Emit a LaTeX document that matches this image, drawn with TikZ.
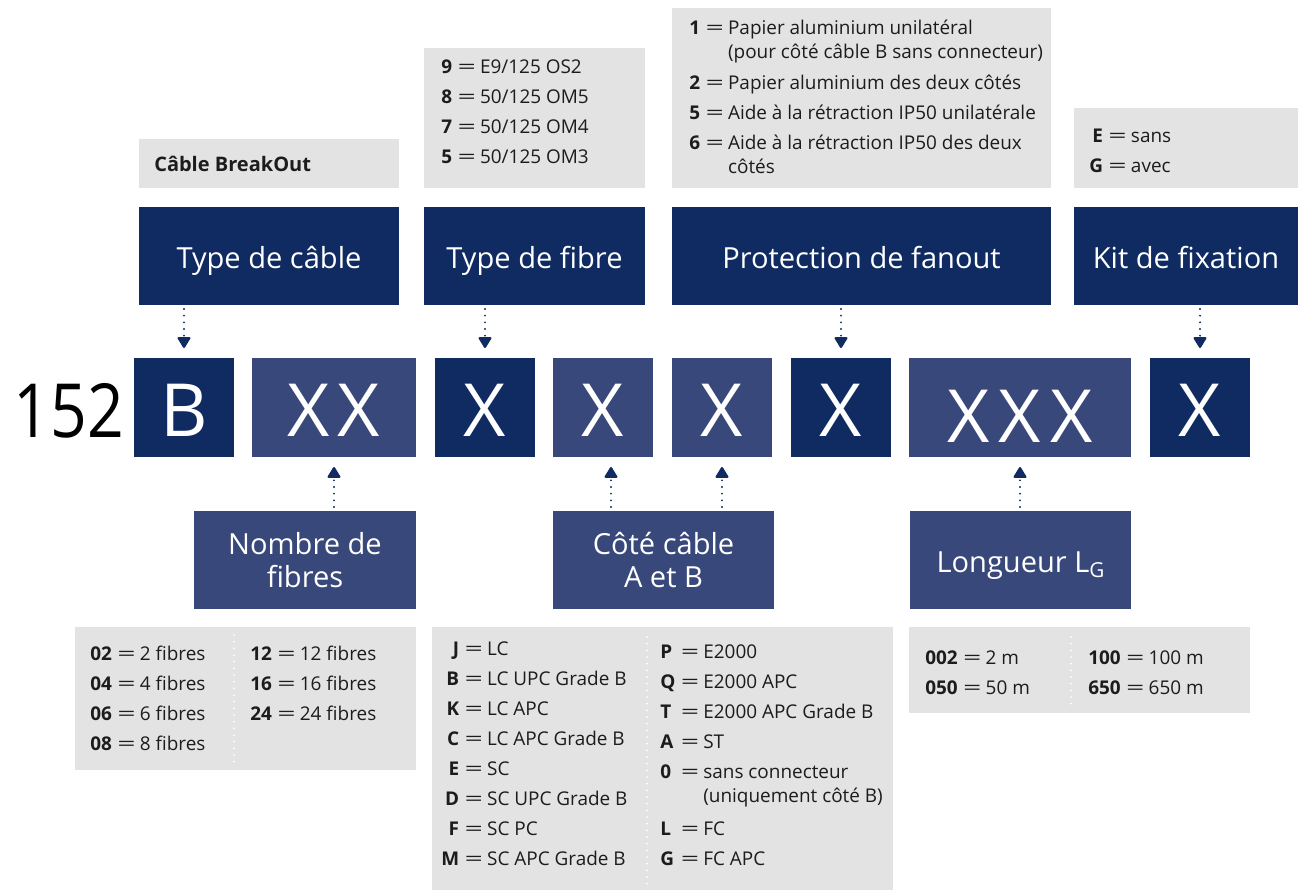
\documentclass[tikz,border=0pt]{standalone}
\usepackage{fontspec}
\setmainfont{Open Sans}
\usepackage{graphicx}
\usetikzlibrary{arrows.meta}

\definecolor{navy}{RGB}{15,43,97}
\definecolor{slate}{RGB}{57,72,122}
\definecolor{panel}{RGB}{227,227,227}
\definecolor{ink}{RGB}{28,28,28}

% wide equals sign used in the code lists, and its blank twin
\newcommand\eqs{\hspace{5pt}\makebox[12pt]{\scalebox{1.7}[1]{=}}\hspace{4pt}}
\newcommand\cont{\hphantom{\eqs}}
% rectangle node given by its corners (pixel units)
\newcommand\blockat[7]{%
  \node[#6, minimum width={(#4-#2)*0.75pt}, minimum height={(#5-#3)*0.75pt}]
    (#1) at ({(#2+#4)/2},{(#3+#5)/2}) {#7};}

\begin{document}
\begin{tikzpicture}[x=0.75pt, y=-0.75pt,
  blk/.style={inner sep=0pt, outer sep=0pt, text=white},
  hdr/.style={blk, fill=navy, font=\fontsize{21.8}{25}\selectfont,
    text height=18pt, text depth=0pt},
  sub/.style={blk, fill=slate, font=\fontsize{21.8}{25}\selectfont, align=center},
  codedark/.style={blk, fill=navy, font=\fontsize{55}{55}\selectfont,
    text height=44pt, text depth=0pt},
  codelight/.style={blk, fill=slate, font=\fontsize{55}{55}\selectfont,
    text height=44pt, text depth=0pt},
  panelbox/.style={inner sep=0pt, outer sep=0pt, fill=panel},
  list/.style={inner sep=0pt, anchor=base west, text=ink,
    font=\fontsize{14.2}{18}\selectfont},
  arrowdots/.style={navy, line width=1.6pt, dash pattern=on 0pt off 5pt,
    line cap=round, shorten <=3pt, shorten >=7.5pt,
    -{Triangle[width=10.5pt,length=9pt,round]}},
  divider/.style={white, line width=1.5pt, dash pattern=on 0pt off 5pt,
    line cap=round}
]
\useasboundingbox (0,0) rectangle (1298,891);

% ---------- top information panels ----------
\blockat{pBreak}{139}{139}{399}{188}{panelbox}{}
\blockat{pFibre}{424}{48}{645}{188}{panelbox}{}
\blockat{pProt}{672}{8}{1051}{188}{panelbox}{}
\blockat{pKit}{1074}{108}{1298}{188}{panelbox}{}

\node[list, font=\fontsize{15}{18}\selectfont\bfseries] (tBreak) at (154,172) {Câble BreakOut};

\node[list] (tFibre) at (441,74) {\begin{tabular}[t]{@{}r@{}l@{}}
\textbf{9} & \eqs E9/125 OS2\\[4.5pt]
\textbf{8} & \eqs 50/125 OM5\\[4.5pt]
\textbf{7} & \eqs 50/125 OM4\\[4.5pt]
\textbf{5} & \eqs 50/125 OM3
\end{tabular}};

\node[list] (tProt) at (689,35) {\begin{tabular}[t]{@{}r@{}l@{}}
\textbf{1} & \eqs Papier aluminium unilatéral\\
 & \cont (pour côté câble B sans connecteur)\\[5pt]
\textbf{2} & \eqs Papier aluminium des deux côtés\\[4.5pt]
\textbf{5} & \eqs Aide à la rétraction IP50 unilatérale\\[4.5pt]
\textbf{6} & \eqs Aide à la rétraction IP50 des deux\\
 & \cont côtés
\end{tabular}};

\node[list] (tKit) at (1089,143) {\begin{tabular}[t]{@{}r@{}l@{}}
\textbf{E} & \eqs sans\\[4pt]
\textbf{G} & \eqs avec
\end{tabular}};

% ---------- header blocks ----------
\blockat{hCable}{139}{207}{399}{305}{hdr}{Type de câble}
\blockat{hFibre}{424}{207}{645}{305}{hdr}{Type de fibre}
\blockat{hProt}{672}{207}{1051}{305}{hdr}{Protection de fanout}
\blockat{hKit}{1074}{207}{1298}{305}{hdr}{Kit de fixation}

% ---------- article number ----------
\node[inner sep=0pt, anchor=base east, text=black,
  font=\fontsize{56}{56}\selectfont] (num) at (124,437)
  {\scalebox{0.86}[1]{152}};

\blockat{cB}{134}{358}{234}{457}{codedark}{B}
\blockat{cN}{252}{358}{416}{457}{codelight}{X\hspace{6pt}X}
\blockat{cF}{435}{358}{535}{457}{codedark}{X}
\blockat{cA}{553}{358}{653}{457}{codelight}{X}
\blockat{cBb}{672}{358}{772}{457}{codelight}{X}
\blockat{cP}{791}{358}{891}{457}{codedark}{X}
\blockat{cL}{909}{358}{1131}{457}{codelight, text height=52pt}{X\hspace{7pt}X\hspace{7pt}X}
\blockat{cK}{1150}{358}{1250}{457}{codedark}{X}

% ---------- lower blocks ----------
\blockat{lN}{194}{511}{416}{609}{sub}{Nombre de\\fibres}
\blockat{lC}{553}{511}{774}{609}{sub}{Côté câble\\A et B}
\blockat{lL}{910}{511}{1131}{609}{sub, text height=18pt, text depth=0pt}%
  {Longueur L\raisebox{-4pt}{\fontsize{15.5}{15.5}\selectfont G}}

% ---------- pointers ----------
\coordinate (cAport) at ([xshift=6pt]cA.south);
\draw[arrowdots] (hCable.south -| cB.north) -- (cB.north);
\draw[arrowdots] (hFibre.south -| cF.north) -- (cF.north);
\draw[arrowdots] (hProt.south -| cP.north) -- (cP.north);
\draw[arrowdots] (hKit.south -| cK.north) -- (cK.north);

\draw[arrowdots] (lN.north -| cN.south) -- (cN.south);
\draw[arrowdots] (lC.north -| cAport) -- (cAport);
\draw[arrowdots] (lC.north -| cBb.south) -- (cBb.south);
\draw[arrowdots] (lL.north -| cL.south) -- (cL.south);

% ---------- bottom code panels ----------
\blockat{bN}{75}{627}{416}{770}{panelbox}{}
\blockat{bC}{432}{627}{893}{890}{panelbox}{}
\blockat{bL}{909}{627}{1250}{713}{panelbox}{}

\draw[divider] (234,635) -- (234,764);
\draw[divider] (647,637) -- (647,885);
\draw[divider] (1071,637) -- (1071,704);

\node[list] (tN1) at (90,660) {\begin{tabular}[t]{@{}r@{}l@{}}
\textbf{02} & \eqs 2 fibres\\[4.5pt]
\textbf{04} & \eqs 4 fibres\\[4.5pt]
\textbf{06} & \eqs 6 fibres\\[4.5pt]
\textbf{08} & \eqs 8 fibres
\end{tabular}};
\node[list] (tN2) at (250,660) {\begin{tabular}[t]{@{}r@{}l@{}}
\textbf{12} & \eqs 12 fibres\\[4.5pt]
\textbf{16} & \eqs 16 fibres\\[4.5pt]
\textbf{24} & \eqs 24 fibres
\end{tabular}};

\node[list] (tC1) at (441,655) {\begin{tabular}[t]{@{}r@{}l@{}}
\textbf{J} & \eqs LC\\[4.5pt]
\textbf{B} & \eqs LC UPC Grade B\\[4.5pt]
\textbf{K} & \eqs LC APC\\[4.5pt]
\textbf{C} & \eqs LC APC Grade B\\[4.5pt]
\textbf{E} & \eqs SC\\[4.5pt]
\textbf{D} & \eqs SC UPC Grade B\\[4.5pt]
\textbf{F} & \eqs SC PC\\[4.5pt]
\textbf{M} & \eqs SC APC Grade B
\end{tabular}};
\node[list] (tC2) at (660,658) {\begin{tabular}[t]{@{}l@{}l@{}}
\textbf{P} & \eqs E2000\\[4.5pt]
\textbf{Q} & \eqs E2000 APC\\[4.5pt]
\textbf{T} & \eqs E2000 APC Grade B\\[4.5pt]
\textbf{A} & \eqs ST\\[4.5pt]
\textbf{0} & \eqs sans connecteur\\
 & \cont (uniquement côté B)\\[7pt]
\textbf{L} & \eqs FC\\[4.5pt]
\textbf{G} & \eqs FC APC
\end{tabular}};

\node[list] (tL1) at (925,664) {\begin{tabular}[t]{@{}r@{}l@{}}
\textbf{002} & \eqs 2 m\\[4.5pt]
\textbf{050} & \eqs 50 m
\end{tabular}};
\node[list] (tL2) at (1088,664) {\begin{tabular}[t]{@{}r@{}l@{}}
\textbf{100} & \eqs 100 m\\[4.5pt]
\textbf{650} & \eqs 650 m
\end{tabular}};

\end{tikzpicture}
\end{document}
